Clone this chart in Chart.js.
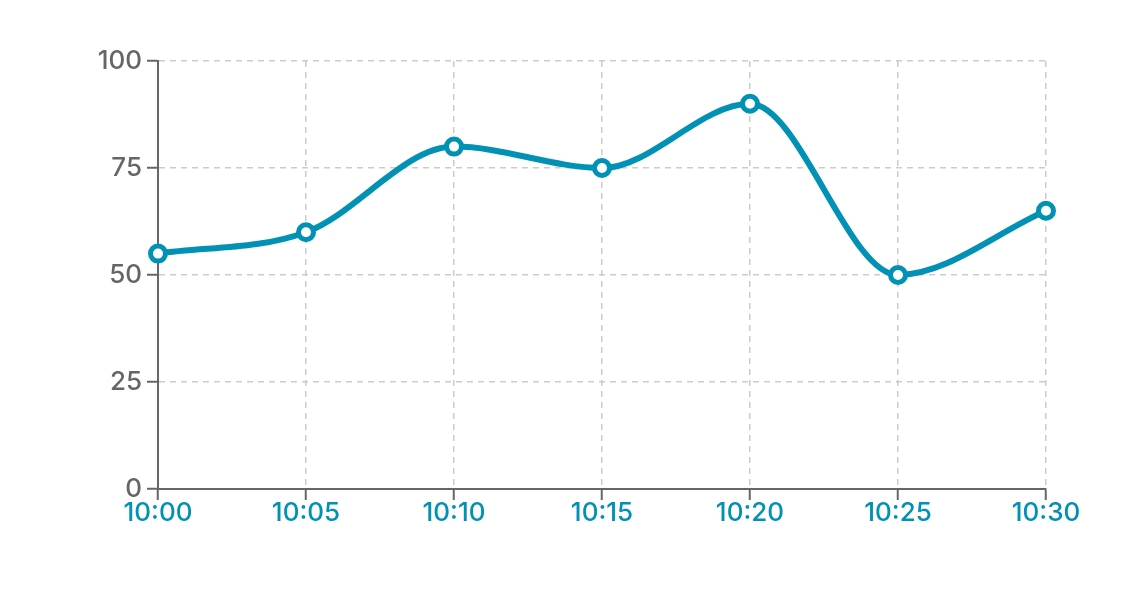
<!DOCTYPE html>
<html>
<head>
<meta charset="utf-8">
<script src="https://cdn.jsdelivr.net/npm/chart.js@4"></script>
<style>
  html, body { margin: 0; padding: 0; background: #fff; }
  #wrap { width: 1141px; height: 590px; }
</style>
</head>
<body>
<div id="wrap"><canvas id="chart" width="1141" height="590"></canvas></div>
<script>
const times = ['10:00', '10:05', '10:10', '10:15', '10:20', '10:25', '10:30'];
const values = [55, 60, 80, 75, 90, 50, 65];
const yTicks = [0, 25, 50, 75, 100];

const teal = '#0091b5';
const axisGrey = '#666666';
const gridGrey = '#cccccc';
const labelFont = { family: 'Inter', size: 26, weight: 500 };
// dashed grid, solid axis line
const dashed = ctx => ctx.type === 'tick' ? [6, 5] : [];

const ctx = document.getElementById('chart').getContext('2d');
new Chart(ctx, {
    type: 'line',
    data: {
        labels: times,
        datasets: [{
            data: values,
            borderColor: teal,
            borderWidth: 6,
            cubicInterpolationMode: 'monotone',
            pointRadius: 7.5,
            pointBorderWidth: 5,
            pointBackgroundColor: '#fff',
            pointBorderColor: teal,
            clip: false
        }]
    },
    options: {
        responsive: false,
        animation: false,
        layout: { padding: { left: 0, right: 95, top: 61, bottom: 61 } },
        plugins: { legend: { display: false }, tooltip: { enabled: false } },
        scales: {
            x: {
                offset: false,
                afterFit: s => { s.height = 40; },
                border: { display: true, color: axisGrey, width: 2, dash: dashed },
                grid: { color: gridGrey, lineWidth: 1.5, tickColor: axisGrey, tickWidth: 2, tickLength: 11, tickBorderDash: [] },
                ticks: { color: teal, font: labelFont, padding: -2, maxRotation: 0, autoSkip: false }
            },
            y: {
                min: 0,
                max: 100,
                afterFit: s => { s.width = 158; },
                afterBuildTicks: s => { s.ticks = yTicks.map(v => ({ value: v })); },
                border: { display: true, color: axisGrey, width: 2, dash: dashed },
                grid: { color: gridGrey, lineWidth: 1.5, tickColor: axisGrey, tickWidth: 2, tickLength: 11, tickBorderDash: [] },
                ticks: { color: axisGrey, font: labelFont, padding: 5 }
            }
        }
    }
});
</script>
</body>
</html>
